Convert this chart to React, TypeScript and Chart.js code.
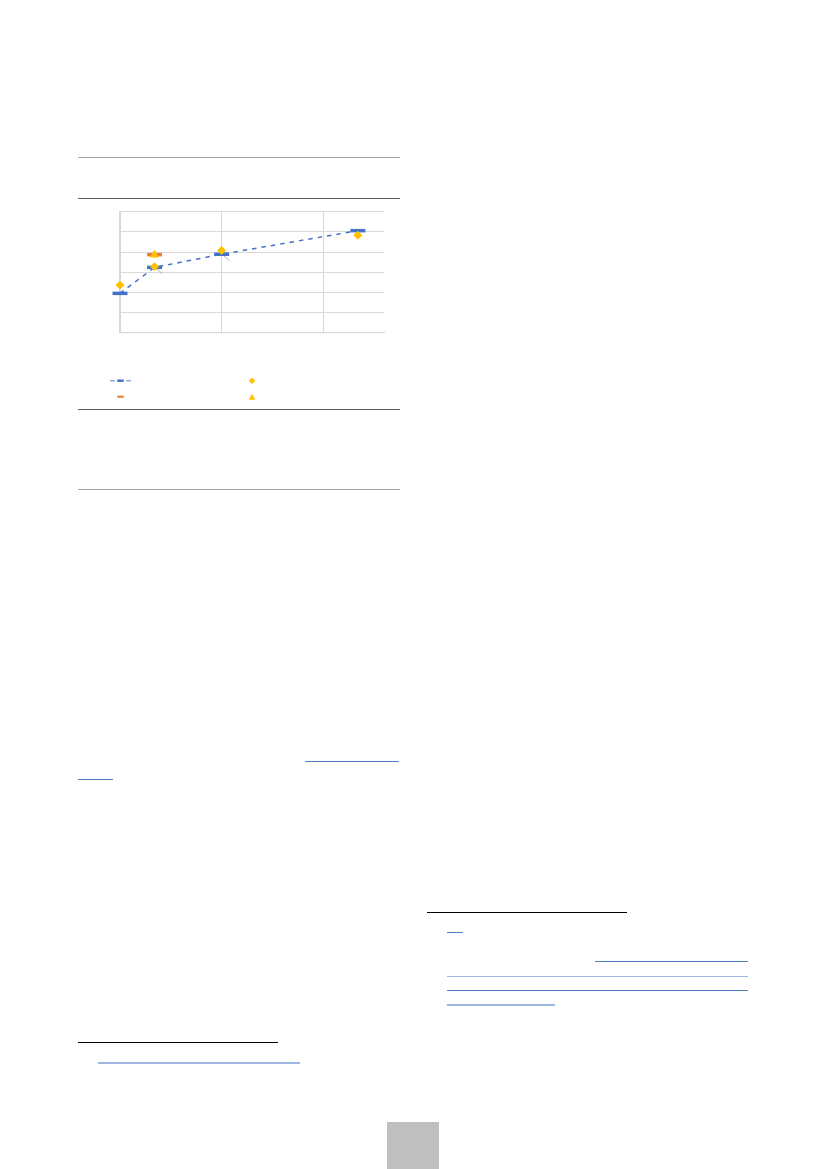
import React, { useEffect, useRef } from "react";
import { Chart, registerables } from "chart.js";

Chart.register(...registerables);

// ---- data ----
const pointX = [0, 0.34, 1.0, 2.34];
const trendY = [1.95, 3.24, 3.89, 5.06];
const diamondY = [2.36, 3.27, 4.08, 4.83];
const orangeX = [0.34];
const orangeY = [3.87];
const triangleX = [0.34];
const triangleY = [3.86];
const xTicks = [0, 1, 2];
const yTicks = [0, 1, 2, 3, 4, 5, 6];

const BLUE = "#4472c4";
const ORANGE = "#ed7d31";
const GOLD = "#ffc000";
const GRID = "#d9d9d9";

const toPts = (xs: number[], ys: number[]) => xs.map((x, i) => ({ x, y: ys[i] }));

const leaderPlugin = {
  id: "leaders",
  beforeDatasetsDraw(chart: any) {
    const meta = chart.getDatasetMeta(0);
    const ctx = chart.ctx;
    ctx.save();
    ctx.strokeStyle = "#a6a6a6";
    ctx.lineWidth = 0.8;
    [1, 2].forEach((i) => {
      const p = meta.data[i];
      if (!p) return;
      ctx.beginPath();
      ctx.moveTo(p.x + 2, p.y + 1.5);
      ctx.lineTo(p.x + 8, p.y + 6.5);
      ctx.stroke();
    });
    ctx.restore();
  },
};

const legendPlugin = {
  id: "markerLegend",
  afterDraw(chart: any) {
    const ctx = chart.ctx;
    ctx.save();
    // row 1, column 1: dashed line with dash marker
    const y1 = 180.7;
    ctx.strokeStyle = BLUE;
    ctx.globalAlpha = 0.6;
    ctx.lineWidth = 1.5;
    ctx.beginPath();
    ctx.moveTo(32, y1);
    ctx.lineTo(37, y1);
    ctx.moveTo(48.3, y1);
    ctx.lineTo(53, y1);
    ctx.stroke();
    ctx.globalAlpha = 1;
    ctx.lineWidth = 2.5;
    ctx.beginPath();
    ctx.moveTo(39.3, y1);
    ctx.lineTo(45.7, y1);
    ctx.stroke();
    // row 1, column 2: diamond
    ctx.fillStyle = GOLD;
    ctx.beginPath();
    ctx.moveTo(174, y1 - 3.2);
    ctx.lineTo(177.2, y1);
    ctx.lineTo(174, y1 + 3.2);
    ctx.lineTo(170.8, y1);
    ctx.closePath();
    ctx.fill();
    // row 2, column 1: orange dash
    const y2 = 196.7;
    ctx.strokeStyle = ORANGE;
    ctx.lineWidth = 2.2;
    ctx.beginPath();
    ctx.moveTo(39.3, y2);
    ctx.lineTo(45.7, y2);
    ctx.stroke();
    // row 2, column 2: triangle
    ctx.fillStyle = GOLD;
    ctx.beginPath();
    ctx.moveTo(174, y2 - 3);
    ctx.lineTo(177.2, y2 + 3);
    ctx.lineTo(170.8, y2 + 3);
    ctx.closePath();
    ctx.fill();
    ctx.restore();
  },
};

function ScatterChart() {
  const ref = useRef<HTMLCanvasElement | null>(null);
  useEffect(() => {
    if (!ref.current) return;
    const chart = new Chart(ref.current, {
      type: "scatter",
      data: {
        datasets: [
          {
            label: "trend",
            data: toPts(pointX, trendY),
            showLine: true,
            borderColor: BLUE,
            backgroundColor: BLUE,
            borderWidth: 1.5,
            borderDash: [4.5, 5],
            pointStyle: "line",
            pointRadius: 7.5,
            pointBorderWidth: 3.5,
            pointBorderColor: BLUE,
            pointHoverRadius: 7.5,
            clip: false,
            order: 4,
          } as any,
          {
            label: "orange",
            data: toPts(orangeX, orangeY),
            borderColor: ORANGE,
            backgroundColor: ORANGE,
            pointStyle: "line",
            pointRadius: 7.5,
            pointBorderWidth: 3.5,
            clip: false,
            order: 3,
          } as any,
          {
            label: "diamond",
            data: toPts(pointX, diamondY),
            borderColor: GOLD,
            backgroundColor: GOLD,
            pointStyle: "rectRot",
            pointRadius: 4,
            pointBorderWidth: 1,
            clip: false,
            order: 2,
          } as any,
          {
            label: "triangle",
            data: toPts(triangleX, triangleY),
            borderColor: GOLD,
            backgroundColor: GOLD,
            pointStyle: "triangle",
            pointRadius: 4.5,
            pointBorderWidth: 1,
            clip: false,
            order: 1,
          } as any,
        ],
      },
      options: {
        responsive: false,
        animation: false,
        events: [],
        layout: {
          autoPadding: false,
          padding: { left: 42, top: 11.7, right: 15.7, bottom: 77.3 },
        },
        plugins: {
          legend: { display: false },
          tooltip: { enabled: false },
          title: { display: false },
        },
        scales: {
          x: {
            type: "linear",
            min: 0,
            max: 2.6,
            afterBuildTicks: (axis: any) => {
              axis.ticks = xTicks.map((v) => ({ value: v }));
            },
            afterFit: (axis: any) => {
              axis.height = 0;
            },
            ticks: { display: false },
            grid: { color: GRID, lineWidth: 1, drawTicks: false },
            border: { display: true, color: GRID, width: 1.2 },
          },
          y: {
            type: "linear",
            min: 0,
            max: 6,
            afterBuildTicks: (axis: any) => {
              axis.ticks = yTicks.map((v) => ({ value: v }));
            },
            afterFit: (axis: any) => {
              axis.width = 0;
            },
            ticks: { display: false },
            grid: { color: GRID, lineWidth: 1, drawTicks: false },
            border: { display: true, color: GRID, width: 1.5 },
          },
        },
      } as any,
      plugins: [leaderPlugin, legendPlugin],
    });
    return () => chart.destroy();
  }, []);
  return (
    <canvas
      ref={ref}
      width={322}
      height={210}
      style={{ position: "absolute", left: 78, top: 200, width: 322, height: 210 }}
    />
  );
}

const line = (left: number, top: number, width: number, color: string, h = 1) => (
  <div
    style={{
      position: "absolute",
      left,
      top,
      width,
      height: h,
      background: color,
    }}
  />
);

const LINK = "#4f7fc1";
const LINK_LIGHT = "#9db7e0";

export default function App() {
  return (
    <div
      style={{
        position: "absolute",
        left: 0,
        top: 0,
        width: 827,
        height: 1169,
        overflow: "hidden",
        background: "#fff",
      }}
    >
      {line(78, 157, 322, "#a6a6a6")}
      {line(78, 198, 322, "#595959")}
      <ScatterChart />
      {line(78, 409, 322, "#595959")}
      {line(78, 489, 322, "#a6a6a6")}

      {line(305, 761, 94, LINK)}
      {line(78, 779, 35, LINK)}

      {line(78, 1042, 200, "#000")}
      {line(98, 1062, 202, LINK_LIGHT, 1.5)}

      {line(427, 912, 200, "#000")}
      {line(447, 932, 16, LINK)}
      {line(595, 961, 153, LINK)}
      {line(447, 975.5, 301, LINK_LIGHT, 1.5)}
      {line(447, 990, 301, LINK)}
      {line(447, 1004, 108, LINK_LIGHT, 1.5)}

      <div
        style={{
          position: "absolute",
          left: 387,
          top: 1122,
          width: 52,
          height: 47,
          background: "#bfbfbf",
        }}
      />
    </div>
  );
}
